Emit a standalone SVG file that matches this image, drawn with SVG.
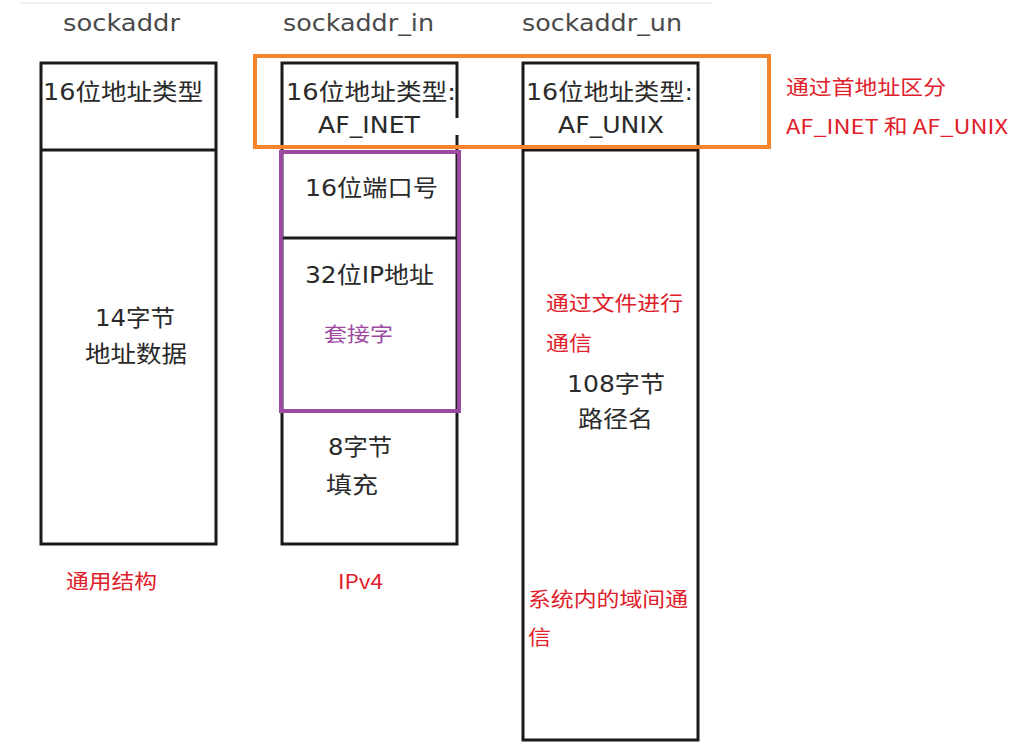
<svg xmlns="http://www.w3.org/2000/svg" width="1023" height="750" viewBox="0 0 1023 750">
<style>
.box{fill:none;stroke:#1a1a1a;stroke-width:3}
.t{font-family:"DejaVu Sans","Noto Sans CJK SC",sans-serif;font-size:23px;fill:#2a2a2a}
.h{font-family:"DejaVu Sans","Noto Sans CJK SC",sans-serif;font-size:23px;fill:#4a4a4a}
.r{font-family:"Noto Sans CJK SC",sans-serif;font-size:20px;fill:#e0202a}
.p{font-family:"Noto Sans CJK SC",sans-serif;font-size:20px;fill:#9c4aa0}
</style>
<rect width="1023" height="750" fill="#fff"/>
<line x1="20" y1="3" x2="712" y2="3" stroke="#eeeeee" stroke-width="1.5"/>
<g id="sockaddr">
<text class="h" x="63" y="31" textLength="117" lengthAdjust="spacingAndGlyphs">sockaddr</text>
<rect class="box" x="41" y="63" width="175" height="481"/>
<line class="box" x1="41" y1="150" x2="216" y2="150"/>
<text class="t" x="43" y="100" textLength="160" lengthAdjust="spacingAndGlyphs">16位地址类型</text>
<text class="t" x="95" y="326" textLength="80" lengthAdjust="spacingAndGlyphs">14字节</text>
<text class="t" x="85" y="362" textLength="102" lengthAdjust="spacingAndGlyphs">地址数据</text>
<text class="r" x="66" y="589" textLength="91" lengthAdjust="spacingAndGlyphs">通用结构</text>
</g>
<g id="sockaddr_in">
<text class="h" x="283" y="31" textLength="151" lengthAdjust="spacingAndGlyphs">sockaddr_in</text>
<rect class="box" x="282" y="63" width="175" height="481"/>
<line class="box" x1="282" y1="238" x2="457" y2="238"/>
<text class="t" x="286" y="100" textLength="170" lengthAdjust="spacingAndGlyphs">16位地址类型:</text>
<text class="t" x="318" y="133" textLength="102" lengthAdjust="spacingAndGlyphs">AF_INET</text>
<rect x="444" y="118" width="20" height="17" fill="#fff"/>
<text class="t" x="305" y="196" textLength="133" lengthAdjust="spacingAndGlyphs">16位端口号</text>
<text class="t" x="305" y="283" textLength="129" lengthAdjust="spacingAndGlyphs">32位IP地址</text>
<text class="t" x="328" y="455" textLength="64" lengthAdjust="spacingAndGlyphs">8字节</text>
<text class="t" x="326" y="493" textLength="52" lengthAdjust="spacingAndGlyphs">填充</text>
<text class="r" x="338" y="589" textLength="45" lengthAdjust="spacingAndGlyphs">IPv4</text>
</g>
<g id="sockaddr_un">
<text class="h" x="522" y="31" textLength="160" lengthAdjust="spacingAndGlyphs">sockaddr_un</text>
<rect class="box" x="523" y="63" width="175" height="677"/>
<line class="box" x1="523" y1="150" x2="698" y2="150"/>
<text class="t" x="526" y="100" textLength="167" lengthAdjust="spacingAndGlyphs">16位地址类型:</text>
<text class="t" x="558" y="133" textLength="106" lengthAdjust="spacingAndGlyphs">AF_UNIX</text>
<text class="t" x="567" y="392" textLength="98" lengthAdjust="spacingAndGlyphs">108字节</text>
<text class="t" x="578" y="427" textLength="75" lengthAdjust="spacingAndGlyphs">路径名</text>
<text class="r" x="546" y="311" textLength="137" lengthAdjust="spacingAndGlyphs">通过文件进行</text>
<text class="r" x="546" y="351" textLength="46" lengthAdjust="spacingAndGlyphs">通信</text>
<text class="r" x="528" y="607" textLength="160" lengthAdjust="spacingAndGlyphs">系统内的域间通</text>
<text class="r" x="528" y="645" textLength="23" lengthAdjust="spacingAndGlyphs">信</text>
</g>
<g id="family-highlight">
<rect x="255" y="56" width="514" height="91" fill="none" stroke="#f5842c" stroke-width="4"/>
<text class="r" x="786" y="95" textLength="160" lengthAdjust="spacingAndGlyphs">通过首地址区分</text>
<text class="r" x="786" y="134" textLength="222" lengthAdjust="spacingAndGlyphs">AF_INET 和 AF_UNIX</text>
</g>
<g id="socket-highlight">
<rect x="281" y="152" width="178" height="259" fill="none" stroke="#9c4aa0" stroke-width="4"/>
<text class="p" x="324" y="342" textLength="69" lengthAdjust="spacingAndGlyphs">套接字</text>
</g>
<g id="connectors"></g>
</svg>
